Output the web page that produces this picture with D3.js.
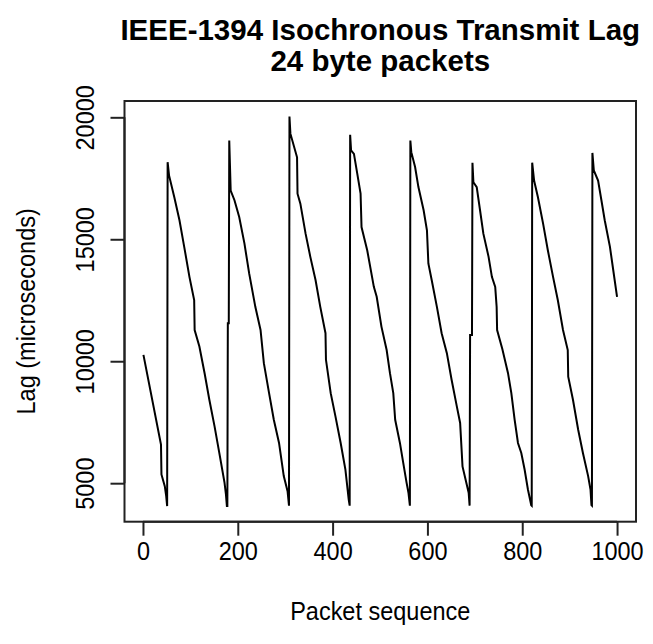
<!DOCTYPE html>
<html>
<head>
<meta charset="utf-8">
<script src="https://cdn.jsdelivr.net/npm/d3@7"></script>
<style>
  html, body { margin: 0; padding: 0; background: #fff; }
  svg { display: block; }
  text { font-family: "Liberation Sans", Arial, Helvetica, sans-serif; fill: #000; }
</style>
</head>
<body>
<svg id="chart" width="653" height="644"></svg>
<script>
// ---- data ----
const titleLines = ["IEEE-1394 Isochronous Transmit Lag", "24 byte packets"];
const xLabel = "Packet sequence";
const yLabel = "Lag (microseconds)";
const xTicks = [0, 200, 400, 600, 800, 1000];
const yTicks = [5000, 10000, 15000, 20000];

// packet index of each vertex of the traced line
const packet = [
  1, 38, 39, 46, 49, 51,
  52, 55, 66, 77, 87, 98, 108, 109, 119, 130, 140, 151, 161, 172, 175, 177,
  178, 179, 181, 182, 185, 193, 203, 214, 224, 237, 248, 255, 266, 276, 287, 297, 305, 308,
  309, 311, 325, 326, 332, 343, 353, 364, 374, 385, 386, 396, 406, 417, 427, 434, 436,
  437, 439, 445, 452, 459, 461, 473, 487, 493, 503, 514, 521, 528, 532, 542, 549, 556, 560, 563,
  564, 566, 574, 581, 592, 599, 602, 609, 620, 630, 641, 651, 662, 669, 674, 687, 689,
  690, 694, 695, 697, 704, 711, 718, 729, 736, 743, 746, 747, 758, 770, 777, 784, 791, 798, 805, 812, 819,
  820, 821, 825, 833, 844, 854, 865, 875, 886, 896, 897, 907, 918, 928, 939, 944, 946,
  947, 948, 951, 960, 967, 974, 985, 992, 1000
];
// lag in microseconds at each vertex
const lag = [
  10260, 6580, 5360, 4880, 4470, 4060,
  18160, 17620, 16730, 15780, 14690, 13460, 12510, 11280, 10600, 9510, 8420, 7330, 6240, 5020, 4540, 4060,
  4060, 11560, 11560, 19050, 17000, 16600, 15910, 14830, 13600, 12230, 11280, 9920, 8690, 7600, 6650, 5290, 4670, 4080,
  20030, 19330, 18360, 16870, 16460, 15230, 14280, 13330, 12230, 11150, 10060, 8690, 7740, 6650, 5560, 4330, 4080,
  19280, 18640, 18500, 17690, 16870, 15500, 14550, 13050, 12640, 11420, 10460, 9510, 8690, 7600, 6650, 5830, 5020, 4610, 4080,
  19050, 18570, 17960, 17140, 16190, 15370, 14010, 13330, 12230, 11150, 10330, 9240, 8150, 7470, 5690, 4610, 4080,
  11080, 11080, 18140, 17340, 17140, 16190, 15230, 14280, 13460, 13050, 12230, 11280, 10500, 9510, 8690, 7600, 6650, 6240, 5560, 4740, 4100,
  4080, 18140, 17410, 16730, 15640, 14550, 13460, 12510, 11280, 10460, 9370, 8420, 7190, 6240, 5290, 4740, 4100,
  4080, 18540, 17820, 17410, 16600, 15780, 14690, 13730, 12640
];

// ---- layout ----
const svg = d3.select("#chart");
const plot = { left: 124.5, right: 636, top: 101, bottom: 521.7 };

function padded(ext) {
  const p = (ext[1] - ext[0]) * 0.04;
  return [ext[0] - p, ext[1] + p];
}

const x = d3.scaleLinear().domain(padded(d3.extent(packet))).range([plot.left, plot.right]);
const y = d3.scaleLinear().domain(padded(d3.extent(lag))).range([plot.bottom, plot.top]);

const pts = packet.map((p, i) => [p, lag[i]]);

// data line
svg.append("path")
  .datum(pts)
  .attr("fill", "none")
  .attr("stroke", "#000")
  .attr("stroke-width", 2)
  .attr("stroke-linejoin", "miter")
  .attr("d", d3.line().x(d => x(d[0])).y(d => y(d[1])));

// box
svg.append("rect")
  .attr("x", plot.left).attr("y", plot.top)
  .attr("width", plot.right - plot.left)
  .attr("height", plot.bottom - plot.top)
  .attr("fill", "none")
  .attr("stroke", "#222")
  .attr("stroke-width", 2);

// axes (R style: outward ticks, domain line tick-to-tick)
const tickLen = 14;
const fontSize = 23.5;
const stretch = 1.1;

const xAxis = d3.axisBottom(x).tickValues(xTicks).tickSize(tickLen).tickFormat(d3.format("d"));
const gx = svg.append("g").attr("transform", `translate(0,${plot.bottom})`).call(xAxis);
gx.select(".domain").attr("d", `M${x(xTicks[0])},0H${x(xTicks[xTicks.length - 1])}`).attr("stroke", "#222").attr("stroke-width", 2);
gx.selectAll(".tick line").attr("stroke", "#222").attr("stroke-width", 2);
gx.selectAll(".tick text")
  .attr("font-family", "Liberation Sans, Arial, sans-serif")
  .attr("font-size", fontSize)
  .attr("fill", "#000")
  .attr("dy", null)
  .attr("y", 0)
  .attr("transform", `translate(0,${551 - plot.bottom}) scale(1,${stretch})`)
  .attr("dominant-baseline", "central");

const yAxis = d3.axisLeft(y).tickValues(yTicks).tickSize(tickLen).tickFormat(d3.format("d"));
const gy = svg.append("g").attr("transform", `translate(${plot.left},0)`).call(yAxis);
gy.select(".domain").attr("d", `M0,${y(yTicks[0])}V${y(yTicks[yTicks.length - 1])}`).attr("stroke", "#222").attr("stroke-width", 2);
gy.selectAll(".tick line").attr("stroke", "#222").attr("stroke-width", 2);
gy.selectAll(".tick text")
  .attr("font-family", "Liberation Sans, Arial, sans-serif")
  .attr("font-size", fontSize)
  .attr("fill", "#000")
  .attr("x", 0).attr("dy", null)
  .attr("text-anchor", "middle")
  .attr("dominant-baseline", "central")
  .attr("transform", `translate(${85 - plot.left},0) rotate(-90) scale(1,${stretch})`);

// axis titles
const cx = (plot.left + plot.right) / 2;
const cy = (plot.top + plot.bottom) / 2;
svg.append("text")
  .attr("transform", `translate(${cx},611) scale(1,${stretch})`)
  .attr("text-anchor", "middle")
  .attr("dominant-baseline", "central")
  .attr("font-size", fontSize)
  .text(xLabel);

svg.append("text")
  .attr("transform", `translate(26,${cy}) rotate(-90) scale(1,${stretch})`)
  .attr("text-anchor", "middle")
  .attr("dominant-baseline", "central")
  .attr("font-size", fontSize)
  .text(yLabel);

// title
svg.selectAll(".title")
  .data(titleLines)
  .enter().append("text")
  .attr("class", "title")
  .attr("x", cx)
  .attr("y", (d, i) => 40 + i * 31)
  .attr("text-anchor", "middle")
  .attr("font-weight", "bold")
  .attr("font-size", 29.5)
  .text(d => d);
</script>
</body>
</html>
